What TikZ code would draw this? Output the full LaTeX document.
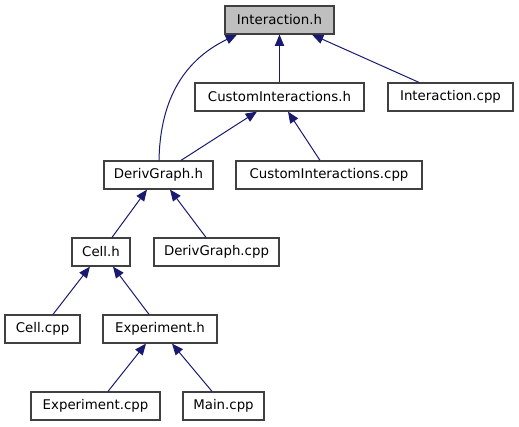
\documentclass[tikz,border=0pt]{standalone}
\usepackage{fontspec}
\setmainfont{DejaVu Sans}
\usetikzlibrary{arrows.meta,calc}
\definecolor{edgecol}{HTML}{191970}
\definecolor{boxfill}{HTML}{BFBFBF}
\definecolor{boxline}{HTML}{404040}
\tikzset{
  file/.style={draw=boxline, line width=0.9pt, fill=white, inner sep=0pt,
    minimum height=21pt, font=\fontsize{10}{12}\selectfont, text=black},
  curfile/.style={file, fill=boxfill},
  edge/.style={draw=edgecol, line width=0.75pt,
    -{Triangle[length=8.5pt,width=7pt,fill=edgecol]}}
}
\begin{document}
\begin{tikzpicture}[x=0.75pt,y=-0.75pt]
\useasboundingbox (0,0) rectangle (519,427);
\node[curfile, minimum width=81.75pt] (ih)  at (279.5,20)  {Interaction.h};
\node[file, minimum width=126.75pt] (cih) at (279.5,97)  {CustomInteractions.h};
\node[file, minimum width=93.75pt]  (icpp) at (450.5,97) {Interaction.cpp};
\node[file, minimum width=81.75pt]  (dgh) at (158.5,175) {DerivGraph.h};
\node[file, minimum width=139.5pt]  (cicpp) at (329,175) {CustomInteractions.cpp};
\node[file, minimum width=43.5pt]   (cellh) at (101,252) {Cell.h};
\node[file, minimum width=93.75pt]  (dgcpp) at (216.5,252) {DerivGraph.cpp};
\node[file, minimum width=56.25pt]  (cellcpp) at (42.5,329) {Cell.cpp};
\node[file, minimum width=85.5pt]   (exph) at (160,329) {Experiment.h};
\node[file, minimum width=96.75pt]  (expcpp) at (95.5,406) {Experiment.cpp};
\node[file, minimum width=60.75pt]  (maincpp) at (223.5,406) {Main.cpp};

\draw[edge] (cih.north) -- (ih.south);
\draw[edge] ($(icpp.north)+(-31.5,0)$) -- ($(ih.south)+(32.5,0)$);
\draw[edge] ($(dgh.north)+(0.5,0)$) .. controls (160,105) and (180,62) .. ($(ih.south)+(-42.5,0)$);
\draw[edge] ($(dgh.north)+(22.5,0)$) -- ($(cih.south)+(-22.5,0)$);
\draw[edge] ($(cicpp.north)+(-9,0)$) -- ($(cih.south)+(8.5,0)$);
\draw[edge] ($(cellh.north)+(11,0)$) -- ($(dgh.south)+(-11.5,0)$);
\draw[edge] ($(dgcpp.north)+(-10.5,0)$) -- ($(dgh.south)+(11.5,0)$);
\draw[edge] ($(cellcpp.north)+(10.5,0)$) -- ($(cellh.south)+(-11,0)$);
\draw[edge] ($(exph.north)+(-11,0)$) -- ($(cellh.south)+(12,0)$);
\draw[edge] ($(expcpp.north)+(12.5,0)$) -- ($(exph.south)+(-14,0)$);
\draw[edge] ($(maincpp.north)+(-11.5,0)$) -- ($(exph.south)+(12,0)$);
\end{tikzpicture}
\end{document}
